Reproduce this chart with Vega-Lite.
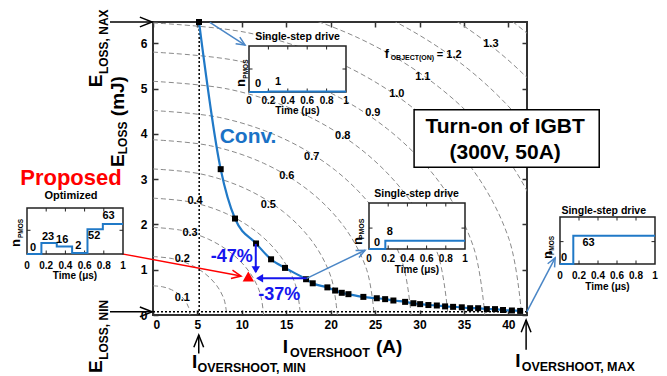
{
"$schema":"https://vega.github.io/schema/vega-lite/v6.json",
"width":374,"height":293,
"autosize":{"type":"none"},
"padding":{"left":153,"top":22,"right":140,"bottom":61},
"background":"white",
"config":{"font":"Liberation Sans","view":{"stroke":"#333","strokeWidth":2},
"axis":{"grid":false,"domain":false,"labelFont":"Liberation Sans","labelFontWeight":"bold","labelFontSize":12,"labelColor":"#000","tickColor":"#333","tickWidth":1.5},
"text":{"font":"Liberation Sans","fontWeight":"bold","color":"#000"}},
"datasets":{
"conv":[{"x":5.18,"y":6.47},{"x":7.62,"y":3.22},{"x":9.23,"y":2.13},{"x":11.6,"y":1.58},{"x":13.29,"y":1.23},{"x":14.86,"y":1.04},{"x":17.23,"y":0.79},{"x":17.98,"y":0.7},{"x":19.63,"y":0.61},{"x":20.5,"y":0.54},{"x":21.25,"y":0.49},{"x":22.0,"y":0.46},{"x":23.68,"y":0.4},{"x":25.19,"y":0.37},{"x":26.13,"y":0.35},{"x":27.06,"y":0.32},{"x":28.38,"y":0.29},{"x":29.31,"y":0.26},{"x":30.07,"y":0.24},{"x":31.0,"y":0.22},{"x":31.95,"y":0.21},{"x":32.88,"y":0.19},{"x":33.78,"y":0.18},{"x":34.76,"y":0.17},{"x":35.7,"y":0.15},{"x":36.6,"y":0.15},{"x":37.58,"y":0.13},{"x":38.5,"y":0.13},{"x":39.4,"y":0.11},{"x":40.4,"y":0.1},{"x":41.33,"y":0.09}],
"contours":[
{"f":0.1,"x":4.15,"y":0},{"f":0.1,"x":4.009,"y":0.167},{"f":0.1,"x":3.594,"y":0.323},{"f":0.1,"x":2.934,"y":0.456},{"f":0.1,"x":2.075,"y":0.559},{"f":0.1,"x":1.074,"y":0.623},{"f":0.1,"x":0,"y":0.645},
{"f":0.2,"x":8.3,"y":0},{"f":0.2,"x":8.017,"y":0.334},{"f":0.2,"x":7.188,"y":0.645},{"f":0.2,"x":5.869,"y":0.912},{"f":0.2,"x":4.15,"y":1.117},{"f":0.2,"x":2.148,"y":1.246},{"f":0.2,"x":0,"y":1.29},
{"f":0.3,"x":12.45,"y":0},{"f":0.3,"x":12.026,"y":0.501},{"f":0.3,"x":10.782,"y":0.968},{"f":0.3,"x":8.803,"y":1.368},{"f":0.3,"x":6.225,"y":1.676},{"f":0.3,"x":3.222,"y":1.869},{"f":0.3,"x":0,"y":1.935},
{"f":0.4,"x":16.6,"y":0},{"f":0.4,"x":16.034,"y":0.668},{"f":0.4,"x":14.376,"y":1.29},{"f":0.4,"x":11.738,"y":1.824},{"f":0.4,"x":8.3,"y":2.234},{"f":0.4,"x":4.296,"y":2.492},{"f":0.4,"x":0,"y":2.58},
{"f":0.5,"x":20.75,"y":0},{"f":0.5,"x":20.043,"y":0.835},{"f":0.5,"x":17.97,"y":1.613},{"f":0.5,"x":14.672,"y":2.28},{"f":0.5,"x":10.375,"y":2.793},{"f":0.5,"x":5.37,"y":3.115},{"f":0.5,"x":0,"y":3.225},
{"f":0.6,"x":24.9,"y":0},{"f":0.6,"x":24.051,"y":1.002},{"f":0.6,"x":21.563,"y":1.935},{"f":0.6,"x":17.607,"y":2.736},{"f":0.6,"x":12.45,"y":3.351},{"f":0.6,"x":6.444,"y":3.738},{"f":0.6,"x":0,"y":3.87},
{"f":0.7,"x":29.05,"y":0},{"f":0.7,"x":28.06,"y":1.169},{"f":0.7,"x":25.157,"y":2.258},{"f":0.7,"x":20.541,"y":3.193},{"f":0.7,"x":14.525,"y":3.91},{"f":0.7,"x":7.518,"y":4.361},{"f":0.7,"x":0,"y":4.515},
{"f":0.8,"x":33.2,"y":0},{"f":0.8,"x":32.068,"y":1.336},{"f":0.8,"x":28.751,"y":2.58},{"f":0.8,"x":23.476,"y":3.649},{"f":0.8,"x":16.6,"y":4.469},{"f":0.8,"x":8.592,"y":4.984},{"f":0.8,"x":0,"y":5.16},
{"f":0.9,"x":37.35,"y":0},{"f":0.9,"x":36.077,"y":1.502},{"f":0.9,"x":32.345,"y":2.903},{"f":0.9,"x":26.41,"y":4.105},{"f":0.9,"x":18.675,"y":5.027},{"f":0.9,"x":9.666,"y":5.607},{"f":0.9,"x":0,"y":5.805},
{"f":1.0,"x":41.5,"y":0},{"f":1.0,"x":40.085,"y":1.669},{"f":1.0,"x":35.939,"y":3.225},{"f":1.0,"x":29.345,"y":4.561},{"f":1.0,"x":20.75,"y":5.586},{"f":1.0,"x":10.74,"y":6.23},{"f":1.0,"x":0,"y":6.45},
{"f":1.1,"x":45.65,"y":0},{"f":1.1,"x":44.094,"y":1.836},{"f":1.1,"x":39.533,"y":3.548},{"f":1.1,"x":32.279,"y":5.017},{"f":1.1,"x":22.825,"y":6.144},{"f":1.1,"x":11.814,"y":6.853},{"f":1.1,"x":0,"y":7.095},
{"f":1.2,"x":49.8,"y":0},{"f":1.2,"x":48.102,"y":2.003},{"f":1.2,"x":43.127,"y":3.87},{"f":1.2,"x":35.214,"y":5.473},{"f":1.2,"x":24.9,"y":6.703},{"f":1.2,"x":12.888,"y":7.476},{"f":1.2,"x":0,"y":7.74},
{"f":1.3,"x":53.95,"y":0},{"f":1.3,"x":52.111,"y":2.17},{"f":1.3,"x":46.721,"y":4.193},{"f":1.3,"x":38.148,"y":5.929},{"f":1.3,"x":26.975,"y":7.262},{"f":1.3,"x":13.962,"y":8.099},{"f":1.3,"x":0,"y":8.385},
{"f":1.4,"x":58.1,"y":0},{"f":1.4,"x":56.12,"y":2.337},{"f":1.4,"x":50.315,"y":4.515},{"f":1.4,"x":41.083,"y":6.385},{"f":1.4,"x":29.05,"y":7.82},{"f":1.4,"x":15.036,"y":8.722},{"f":1.4,"x":0,"y":9.03}],
"clabels":[{"x":3.3,"y":0.38,"label":"0.1"},{"x":3.3,"y":1.23,"label":"0.2"},{"x":4.17,"y":1.82,"label":"0.3"},{"x":4.73,"y":2.52,"label":"0.4"},{"x":12.98,"y":2.43,"label":"0.5"},{"x":15.06,"y":3.07,"label":"0.6"},{"x":17.87,"y":3.49,"label":"0.7"},{"x":21.36,"y":3.95,"label":"0.8"},{"x":24.74,"y":4.45,"label":"0.9"},{"x":27.44,"y":4.89,"label":"1.0"},{"x":30.37,"y":5.26,"label":"1.1"},{"x":38.03,"y":5.98,"label":"1.3"}],
"arr_black":[{"id":"a","x":-4.84,"y":6.47},{"id":"a","x":-0.1,"y":6.47},{"id":"b","x":-4.84,"y":0.07},{"id":"b","x":-0.1,"y":0.07},{"id":"c","x":5.15,"y":-0.85},{"id":"c","x":5.15,"y":-0.44},{"id":"d","x":42.0,"y":-0.77},{"id":"d","x":42.0,"y":-0.11}],
"arr_light":[{"id":"a","x":6.4,"y":6.46},{"id":"a","x":10.36,"y":5.96},{"id":"b","x":17.3,"y":0.81},{"id":"b","x":23.87,"y":1.43},{"id":"c","x":42.08,"y":0.07},{"id":"c","x":45.27,"y":1.26}],
"arr_blue":[{"id":"a","x":11.57,"y":1.57},{"id":"a","x":11.57,"y":0.95},{"id":"b","x":17.3,"y":0.81},{"id":"b","x":11.8,"y":0.81}],
"tt0":[{"t":0.2,"n":0},{"t":0.4,"n":0},{"t":0.6,"n":0},{"t":0.8,"n":0}],
"tl":[{"t":0,"n":0},{"t":0.2,"n":0},{"t":0.4,"n":0},{"t":0.6,"n":0},{"t":0.8,"n":0},{"t":1,"n":0}],
"s_top":[{"t":0,"n":0},{"t":0.2,"n":1},{"t":1,"n":1}],
"s_mid":[{"t":0,"n":0},{"t":0.17,"n":8},{"t":1,"n":8}],
"s_right":[{"t":0,"n":0},{"t":0.14,"n":63},{"t":1,"n":63}],
"s_left":[{"t":0,"n":0},{"t":0.15,"n":23},{"t":0.31,"n":16},{"t":0.47,"n":2},{"t":0.63,"n":52},{"t":0.79,"n":63},{"t":1,"n":63}],
"l_top":[{"t":0.093,"n":18,"text":"0"},{"t":0.3,"n":22,"text":"1"}],
"l_mid":[{"t":0.084,"n":6,"text":"0"},{"t":0.216,"n":16.7,"text":"8"}],
"l_right":[{"t":0.042,"n":12.7,"text":"0"},{"t":0.3,"n":48,"text":"63"}],
"l_left":[{"t":0.063,"n":12.6,"text":"0"},{"t":0.22,"n":35.9,"text":"23"},{"t":0.367,"n":30.2,"text":"16"},{"t":0.535,"n":17.1,"text":"2"},{"t":0.7,"n":37.9,"text":"52"},{"t":0.85,"n":79.3,"text":"63"}]
},
"resolve":{"scale":{"x":"independent","y":"independent"}},
"layer":[
{
"encoding":{
"x":{"field":"x","type":"quantitative","scale":{"domain":[0,42.1],"nice":false,"zero":false},"axis":null},
"y":{"field":"y","type":"quantitative","scale":{"domain":[0,6.47],"nice":false,"zero":false},"axis":null}},
"layer":[
{"data":{"name":"contours"},"mark":{"type":"line","clip":true,"interpolate":"cardinal","color":"#8a8a8a","strokeWidth":1,"strokeDash":[5,3]},"encoding":{"detail":{"field":"f","type":"nominal"}}},
{"data":{"name":"clabels"},"mark":{"type":"text","fontSize":11},"encoding":{"text":{"field":"label","type":"nominal"}}},
{"data":{"values":[{"x":26.1,"y":5.67,"s":"f"}]},"mark":{"type":"text","fontSize":12.5,"align":"left","baseline":"alphabetic"},"encoding":{"text":{"field":"s","type":"nominal"}}},
{"data":{"values":[{"x":26.75,"y":5.63,"s":"OBJECT(ON)"}]},"mark":{"type":"text","fontSize":7,"align":"left","baseline":"alphabetic"},"encoding":{"text":{"field":"s","type":"nominal"}}},
{"data":{"values":[{"x":31.95,"y":5.67,"s":"= 1.2"}]},"mark":{"type":"text","fontSize":11,"align":"left","baseline":"alphabetic"},"encoding":{"text":{"field":"s","type":"nominal"}}},
{"data":{"values":[{"x":0,"y":0}]},"mark":{"type":"point","opacity":0},"encoding":{
"x":{"field":"x","type":"quantitative","axis":{"orient":"bottom","values":[0,5,10,15,20,25,30,35,40],"format":"d","title":null,"labelPadding":9,"tickSize":-5}},
"y":{"field":"y","type":"quantitative","axis":{"orient":"left","values":[0,1,2,3,4,5,6],"format":"d","title":null,"labelPadding":11,"tickSize":-5}}}},
{"data":{"values":[{"x":0,"y":0}]},"mark":{"type":"point","opacity":0},"encoding":{
"x":{"field":"x","type":"quantitative","axis":{"orient":"top","values":[0,5,10,15,20,25,30,35,40],"labels":false,"title":null,"tickSize":-5}},
"y":{"field":"y","type":"quantitative","axis":{"orient":"right","values":[0,1,2,3,4,5,6],"labels":false,"title":null,"tickSize":-5}}}},
{"data":{"values":[{"x":5.2,"y":0,"y2":6.47}]},"mark":{"type":"rule","color":"#000","strokeWidth":1.5,"strokeDash":[2,2]},"encoding":{"y2":{"field":"y2"}}},
{"data":{"values":[{"x":0,"x2":42.1,"y":0.07}]},"mark":{"type":"rule","color":"#000","strokeWidth":1.5,"strokeDash":[2,2]},"encoding":{"x2":{"field":"x2"}}},
{"data":{"name":"conv"},"mark":{"type":"line","interpolate":"monotone","color":"#2079c7","strokeWidth":2.2}},
{"data":{"name":"conv"},"mark":{"type":"point","shape":"square","filled":true,"color":"#000","size":36,"opacity":1}},
{"data":{"name":"arr_blue"},"mark":{"type":"line","color":"#1515ee","strokeWidth":2},"encoding":{"detail":{"field":"id","type":"nominal"}}},
{"data":{"values":[{"x":11.57,"y":0.92}]},"mark":{"type":"point","shape":"M-1,-0.6L0,0L-1,0.6Z","filled":true,"color":"#1515ee","size":200,"angle":90,"opacity":1}},
{"data":{"values":[{"x":11.6,"y":0.81}]},"mark":{"type":"point","shape":"M-1,-0.6L0,0L-1,0.6Z","filled":true,"color":"#1515ee","size":200,"angle":180,"opacity":1}},
{"data":{"values":[{"x":10.73,"y":0.85}]},"mark":{"type":"point","shape":"triangle-up","filled":true,"color":"#ff0000","size":130,"opacity":1}},
{"data":{"values":[{"x":-3.49,"y":1.35},{"x":9.91,"y":0.86}]},"mark":{"type":"line","color":"#ff0000","strokeWidth":1.5}},
{"data":{"values":[{"x":9.91,"y":0.86}]},"mark":{"type":"point","shape":"M-1,-0.45L0,0L-1,0.45","filled":false,"color":"#ff0000","strokeWidth":1.5,"size":360,"angle":10.5,"opacity":1}},
{"data":{"name":"arr_light"},"mark":{"type":"line","color":"#4a86c6","strokeWidth":1.5},"encoding":{"detail":{"field":"id","type":"nominal"}}},
{"data":{"values":[{"x":10.36,"y":5.96}]},"mark":{"type":"point","shape":"M-1,-0.45L0,0L-1,0.45","filled":false,"color":"#4a86c6","strokeWidth":1.5,"size":300,"angle":32.5,"opacity":1}},
{"data":{"values":[{"x":23.87,"y":1.43}]},"mark":{"type":"point","shape":"M-1,-0.45L0,0L-1,0.45","filled":false,"color":"#4a86c6","strokeWidth":1.5,"size":300,"angle":-25.8,"opacity":1}},
{"data":{"values":[{"x":45.27,"y":1.26}]},"mark":{"type":"point","shape":"M-1,-0.45L0,0L-1,0.45","filled":false,"color":"#4a86c6","strokeWidth":1.5,"size":300,"angle":-62.2,"opacity":1}},
{"data":{"name":"arr_black"},"mark":{"type":"line","color":"#000","strokeWidth":1.5},"encoding":{"detail":{"field":"id","type":"nominal"}}},
{"data":{"values":[{"x":-0.1,"y":6.47},{"x":-0.1,"y":0.07}]},"mark":{"type":"point","shape":"M-1,-0.4L0,0L-1,0.4","filled":false,"color":"#000","strokeWidth":1.5,"size":600,"angle":0,"opacity":1}},
{"data":{"values":[{"x":5.15,"y":-0.44},{"x":42.0,"y":-0.11}]},"mark":{"type":"point","shape":"M-1,-0.4L0,0L-1,0.4","filled":false,"color":"#000","strokeWidth":1.5,"size":600,"angle":270,"opacity":1}},
{"data":{"values":[{"x":8.86,"y":1.27,"s":"-47%"},{"x":14.22,"y":0.44,"s":"-37%"}]},"mark":{"type":"text","fontSize":18,"color":"#1515ee"},"encoding":{"text":{"field":"s","type":"nominal"}}},
{"data":{"values":[{"x":10.7,"y":3.93,"s":"Conv."}]},"mark":{"type":"text","fontSize":21,"color":"#1a72c6"},"encoding":{"text":{"field":"s","type":"nominal"}}},
{"data":{"values":[{"x":29.39,"x2":50.23,"y":4.53,"y2":3.26}]},"mark":{"type":"rect","fill":"#fff","stroke":"#000","strokeWidth":1.5},"encoding":{"x2":{"field":"x2"},"y2":{"field":"y2"}}},
{"data":{"values":[{"x":39.64,"y":4.16,"s":"Turn-on of IGBT"},{"x":39.64,"y":3.57,"s":"(300V, 50A)"}]},"mark":{"type":"text","fontSize":21},"encoding":{"text":{"field":"s","type":"nominal"}}},
{"data":{"values":[{"x":-3.94,"y":3.27,"s":"E"},{"x":-3.94,"y":4.39,"s":"(mJ)"},{"x":-6.42,"y":5.03,"s":"E"},{"x":-6.42,"y":-1.28,"s":"E"}]},"mark":{"type":"text","fontSize":19,"angle":270,"align":"left","baseline":"middle"},"encoding":{"text":{"field":"s","type":"nominal"}}},
{"data":{"values":[{"x":-3.36,"y":3.55,"s":"LOSS"},{"x":-5.52,"y":5.32,"s":"LOSS, NAX"},{"x":-5.52,"y":-0.99,"s":"LOSS, NIN"}]},"mark":{"type":"text","fontSize":12,"angle":270,"align":"left","baseline":"middle"},"encoding":{"text":{"field":"s","type":"nominal"}}},
{"data":{"values":[{"x":14.6,"y":-0.84,"s":"I"},{"x":25.1,"y":-0.84,"s":"(A)"},{"x":4.39,"y":-1.18,"s":"I"},{"x":40.77,"y":-1.15,"s":"I"}]},"mark":{"type":"text","fontSize":19,"align":"left","baseline":"alphabetic"},"encoding":{"text":{"field":"s","type":"nominal"}}},
{"data":{"values":[{"x":15.43,"y":-0.93,"s":"OVERSHOOT"},{"x":5.01,"y":-1.26,"s":"OVERSHOOT, MIN"},{"x":41.5,"y":-1.24,"s":"OVERSHOOT, MAX"}]},"mark":{"type":"text","fontSize":12.5,"align":"left","baseline":"alphabetic"},"encoding":{"text":{"field":"s","type":"nominal"}}}
]},
{
"encoding":{
"x":{"field":"t","type":"quantitative","scale":{"domain":[0,1],"range":[96,193],"nice":false,"zero":false},"axis":null},
"y":{"field":"n","type":"quantitative","scale":{"domain":[0,100],"range":[70,24],"nice":false,"zero":false},"axis":null}},
"layer":[
{"data":{"values":[{"t":0,"t2":1,"n":0,"n2":100}]},"mark":{"type":"rect","fill":"#fff","stroke":"#222","strokeWidth":1.5},"encoding":{"x2":{"field":"t2"},"y2":{"field":"n2"}}},
{"data":{"name":"tt0"},"mark":{"type":"point","shape":"M0,0L0,-1","filled":false,"color":"#222","strokeWidth":1,"size":49,"opacity":1}},
{"data":{"values":[{"t":0.2,"n":100},{"t":0.4,"n":100},{"t":0.6,"n":100},{"t":0.8,"n":100}]},"mark":{"type":"point","shape":"M0,0L0,1","filled":false,"color":"#222","strokeWidth":1,"size":49,"opacity":1}},
{"data":{"values":[{"t":0,"n":50}]},"mark":{"type":"point","shape":"M0,0L1,0","filled":false,"color":"#222","strokeWidth":1,"size":49,"opacity":1}},
{"data":{"values":[{"t":1,"n":50}]},"mark":{"type":"point","shape":"M0,0L-1,0","filled":false,"color":"#222","strokeWidth":1,"size":49,"opacity":1}},
{"data":{"name":"s_top"},"mark":{"type":"line","interpolate":"step-after","color":"#2079c7","strokeWidth":2}},
{"data":{"name":"l_top"},"mark":{"type":"text","fontSize":11},"encoding":{"text":{"field":"text","type":"nominal"}}},
{"data":{"name":"tl"},"mark":{"type":"text","fontSize":10,"dy":9},"encoding":{"text":{"field":"t","type":"quantitative","format":".1~f"}}},
{"data":{"values":[{"t":0.5,"n":0,"text":"Time (μs)"}]},"mark":{"type":"text","fontSize":10,"dy":19},"encoding":{"text":{"field":"text","type":"nominal"}}},
{"data":{"values":[{"t":0.5,"n":120.4,"text":"Single-step drive"}]},"mark":{"type":"text","fontSize":10.5},"encoding":{"text":{"field":"text","type":"nominal"}}},
{"data":{"values":[{"t":-0.079,"n":11,"text":"n"}]},"mark":{"type":"text","fontSize":13,"angle":270,"align":"left"},"encoding":{"text":{"field":"text","type":"nominal"}}},
{"data":{"values":[{"t":-0.03,"n":29,"text":"PMOS"}]},"mark":{"type":"text","fontSize":6.5,"angle":270,"align":"left"},"encoding":{"text":{"field":"text","type":"nominal"}}}
]},
{
"encoding":{
"x":{"field":"t","type":"quantitative","scale":{"domain":[0,1],"range":[216,312],"nice":false,"zero":false},"axis":null},
"y":{"field":"n","type":"quantitative","scale":{"domain":[0,44],"range":[227,181],"nice":false,"zero":false},"axis":null}},
"layer":[
{"data":{"values":[{"t":0,"t2":1,"n":0,"n2":44}]},"mark":{"type":"rect","fill":"#fff","stroke":"#222","strokeWidth":1.5},"encoding":{"x2":{"field":"t2"},"y2":{"field":"n2"}}},
{"data":{"name":"tt0"},"mark":{"type":"point","shape":"M0,0L0,-1","filled":false,"color":"#222","strokeWidth":1,"size":49,"opacity":1}},
{"data":{"values":[{"t":0.2,"n":44},{"t":0.4,"n":44},{"t":0.6,"n":44},{"t":0.8,"n":44}]},"mark":{"type":"point","shape":"M0,0L0,1","filled":false,"color":"#222","strokeWidth":1,"size":49,"opacity":1}},
{"data":{"values":[{"t":0,"n":20}]},"mark":{"type":"point","shape":"M0,0L1,0","filled":false,"color":"#222","strokeWidth":1,"size":49,"opacity":1}},
{"data":{"values":[{"t":1,"n":20}]},"mark":{"type":"point","shape":"M0,0L-1,0","filled":false,"color":"#222","strokeWidth":1,"size":49,"opacity":1}},
{"data":{"name":"s_mid"},"mark":{"type":"line","interpolate":"step-after","color":"#2079c7","strokeWidth":2}},
{"data":{"name":"l_mid"},"mark":{"type":"text","fontSize":11},"encoding":{"text":{"field":"text","type":"nominal"}}},
{"data":{"name":"tl"},"mark":{"type":"text","fontSize":10,"dy":10},"encoding":{"text":{"field":"t","type":"quantitative","format":".1~f"}}},
{"data":{"values":[{"t":0.5,"n":0,"text":"Time (μs)"}]},"mark":{"type":"text","fontSize":10,"dy":21},"encoding":{"text":{"field":"text","type":"nominal"}}},
{"data":{"values":[{"t":0.495,"n":53,"text":"Single-step drive"}]},"mark":{"type":"text","fontSize":10.5},"encoding":{"text":{"field":"text","type":"nominal"}}},
{"data":{"values":[{"t":-0.11,"n":3.9,"text":"n"}]},"mark":{"type":"text","fontSize":13,"angle":270,"align":"left"},"encoding":{"text":{"field":"text","type":"nominal"}}},
{"data":{"values":[{"t":-0.073,"n":9.3,"text":"PMOS"}]},"mark":{"type":"text","fontSize":7,"angle":270,"align":"left"},"encoding":{"text":{"field":"text","type":"nominal"}}}
]},
{
"encoding":{
"x":{"field":"t","type":"quantitative","scale":{"domain":[0,1],"range":[407,502],"nice":false,"zero":false},"axis":null},
"y":{"field":"n","type":"quantitative","scale":{"domain":[0,105],"range":[242,195],"nice":false,"zero":false},"axis":null}},
"layer":[
{"data":{"values":[{"t":0,"t2":1,"n":0,"n2":105}]},"mark":{"type":"rect","fill":"#fff","stroke":"#222","strokeWidth":1.5},"encoding":{"x2":{"field":"t2"},"y2":{"field":"n2"}}},
{"data":{"name":"tt0"},"mark":{"type":"point","shape":"M0,0L0,-1","filled":false,"color":"#222","strokeWidth":1,"size":49,"opacity":1}},
{"data":{"values":[{"t":0.2,"n":105},{"t":0.4,"n":105},{"t":0.6,"n":105},{"t":0.8,"n":105}]},"mark":{"type":"point","shape":"M0,0L0,1","filled":false,"color":"#222","strokeWidth":1,"size":49,"opacity":1}},
{"data":{"values":[{"t":0,"n":50}]},"mark":{"type":"point","shape":"M0,0L1,0","filled":false,"color":"#222","strokeWidth":1,"size":49,"opacity":1}},
{"data":{"values":[{"t":1,"n":50}]},"mark":{"type":"point","shape":"M0,0L-1,0","filled":false,"color":"#222","strokeWidth":1,"size":49,"opacity":1}},
{"data":{"name":"s_right"},"mark":{"type":"line","interpolate":"step-after","color":"#2079c7","strokeWidth":2}},
{"data":{"name":"l_right"},"mark":{"type":"text","fontSize":11},"encoding":{"text":{"field":"text","type":"nominal"}}},
{"data":{"name":"tl"},"mark":{"type":"text","fontSize":10,"dy":12},"encoding":{"text":{"field":"t","type":"quantitative","format":".1~f"}}},
{"data":{"values":[{"t":0.5,"n":0,"text":"Time (μs)"}]},"mark":{"type":"text","fontSize":10,"dy":22.5},"encoding":{"text":{"field":"text","type":"nominal"}}},
{"data":{"values":[{"t":0.46,"n":118.3,"text":"Single-step drive"}]},"mark":{"type":"text","fontSize":10.5},"encoding":{"text":{"field":"text","type":"nominal"}}},
{"data":{"values":[{"t":-0.13,"n":11,"text":"n"}]},"mark":{"type":"text","fontSize":13,"angle":270,"align":"left"},"encoding":{"text":{"field":"text","type":"nominal"}}},
{"data":{"values":[{"t":-0.087,"n":20,"text":"PMOS"}]},"mark":{"type":"text","fontSize":6.5,"angle":270,"align":"left"},"encoding":{"text":{"field":"text","type":"nominal"}}}
]},
{
"encoding":{
"x":{"field":"t","type":"quantitative","scale":{"domain":[0,1],"range":[-126,-30],"nice":false,"zero":false},"axis":null},
"y":{"field":"n","type":"quantitative","scale":{"domain":[0,97],"range":[232,186],"nice":false,"zero":false},"axis":null}},
"layer":[
{"data":{"values":[{"t":0,"t2":1,"n":0,"n2":97}]},"mark":{"type":"rect","fill":"#fff","stroke":"#222","strokeWidth":1.5},"encoding":{"x2":{"field":"t2"},"y2":{"field":"n2"}}},
{"data":{"name":"tt0"},"mark":{"type":"point","shape":"M0,0L0,-1","filled":false,"color":"#222","strokeWidth":1,"size":49,"opacity":1}},
{"data":{"values":[{"t":0.2,"n":97},{"t":0.4,"n":97},{"t":0.6,"n":97},{"t":0.8,"n":97}]},"mark":{"type":"point","shape":"M0,0L0,1","filled":false,"color":"#222","strokeWidth":1,"size":49,"opacity":1}},
{"data":{"values":[{"t":0,"n":50}]},"mark":{"type":"point","shape":"M0,0L1,0","filled":false,"color":"#222","strokeWidth":1,"size":49,"opacity":1}},
{"data":{"values":[{"t":1,"n":50}]},"mark":{"type":"point","shape":"M0,0L-1,0","filled":false,"color":"#222","strokeWidth":1,"size":49,"opacity":1}},
{"data":{"name":"s_left"},"mark":{"type":"line","interpolate":"step-after","color":"#2079c7","strokeWidth":2}},
{"data":{"name":"l_left"},"mark":{"type":"text","fontSize":11},"encoding":{"text":{"field":"text","type":"nominal"}}},
{"data":{"name":"tl"},"mark":{"type":"text","fontSize":10,"dy":11.5},"encoding":{"text":{"field":"t","type":"quantitative","format":".1~f"}}},
{"data":{"values":[{"t":0.5,"n":0,"text":"Time (μs)"}]},"mark":{"type":"text","fontSize":10,"dy":21.5},"encoding":{"text":{"field":"text","type":"nominal"}}},
{"data":{"values":[{"t":0.458,"n":121.5,"text":"Optimized"}]},"mark":{"type":"text","fontSize":11},"encoding":{"text":{"field":"text","type":"nominal"}}},
{"data":{"values":[{"t":0.458,"n":160,"text":"Proposed"}]},"mark":{"type":"text","fontSize":22,"color":"#ff0000"},"encoding":{"text":{"field":"text","type":"nominal"}}},
{"data":{"values":[{"t":-0.11,"n":14.8,"text":"n"}]},"mark":{"type":"text","fontSize":13,"angle":270,"align":"left"},"encoding":{"text":{"field":"text","type":"nominal"}}},
{"data":{"values":[{"t":-0.063,"n":33.7,"text":"PMOS"}]},"mark":{"type":"text","fontSize":6.5,"angle":270,"align":"left"},"encoding":{"text":{"field":"text","type":"nominal"}}}
]}
]
}
